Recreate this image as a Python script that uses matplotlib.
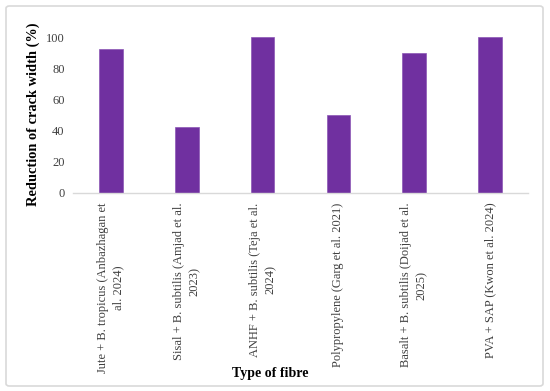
import matplotlib
matplotlib.use("Agg")
import matplotlib.pyplot as plt
from matplotlib.patches import FancyBboxPatch

categories = [
    "Jute + B. tropicus (Anbazhagan et\nal. 2024)",
    "Sisal + B. subtilis (Amjad et al.\n2023)",
    "ANHF + B. subtilis (Teja et al.\n2024)",
    "Polypropylene (Garg et al. 2021)",
    "Basalt + B. subtilis (Doijad et al.\n2025)",
    "PVA + SAP (Kwon et al. 2024)",
]
values = [92, 42, 100, 50, 90, 100]
yticks = [0, 20, 40, 60, 80, 100]

plt.rcParams['font.family'] = ['Liberation Serif', 'DejaVu Serif']

fig = plt.figure(figsize=(5.5, 3.91), dpi=100)
fig.patch.set_facecolor('white')

border = FancyBboxPatch((6/550, 5/391), 537/550, 380/391,
                        boxstyle="round,pad=0,rounding_size=0.006",
                        transform=fig.transFigure, facecolor='none',
                        edgecolor='#D9D9D9', linewidth=1.2)
fig.patches.append(border)

ax = fig.add_axes([73/550, 1 - 193/391, 455/550, 156/391])
x = list(range(len(categories)))
ax.bar(x, values, width=0.31, color='#7030A0', edgecolor='#8B55B5', linewidth=0.5)
ax.set_xlim(-0.5, len(categories) - 0.5)
ax.set_ylim(0, 100)
ax.set_yticks(yticks)
ax.set_yticklabels([str(v) for v in yticks], fontsize=9, color='#404040')
ax.set_xticks(x)
ax.set_xticklabels(categories, rotation=90, fontsize=9, color='#404040',
                   ha='center', va='top', multialignment='center', linespacing=1.4)
ax.tick_params(axis='both', length=0)
ax.tick_params(axis='y', pad=6)
ax.tick_params(axis='x', pad=7)
for s in ['top', 'right', 'left']:
    ax.spines[s].set_visible(False)
ax.spines['bottom'].set_color('#D9D9D9')
ax.spines['bottom'].set_linewidth(1)

fig.text(33/550, 1 - 114/391, "Reduction of crack width (%)", rotation=90,
         ha='center', va='center', fontsize=10.4, fontweight='bold', color='black')
fig.text(270/550, 1 - 373/391, "Type of fibre", ha='center', va='center',
         fontsize=10, fontweight='bold', color='black')

fig.savefig("out.png", dpi=100)
